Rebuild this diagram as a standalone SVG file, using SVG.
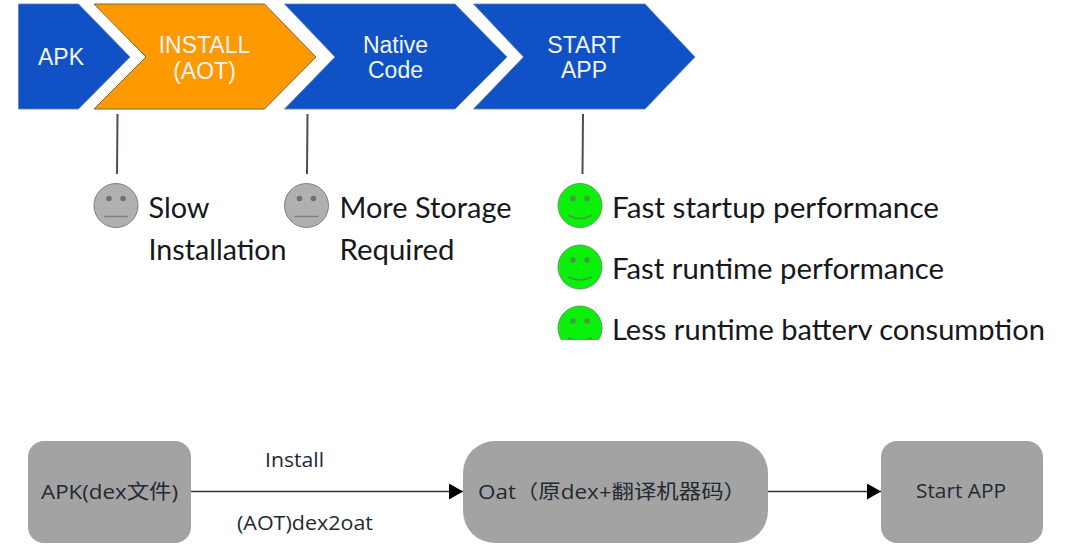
<svg xmlns="http://www.w3.org/2000/svg" width="1078" height="555" viewBox="0 0 1078 555">
<style>
.blue{fill:#1052c6;stroke:#5a7fc4;stroke-width:.8}
.orange{fill:#ff9900;stroke:#7d6a3a;stroke-width:1}
.w{font-family:"Liberation Sans",Arial,sans-serif;font-size:23px;fill:#f2f5fb;text-anchor:middle}
.t{font-family:"Lato","Noto Sans",sans-serif;font-size:28px;fill:#16181c}
.stem{stroke:#434f63;stroke-width:2;fill:none}
.gray{fill:#b0b0b0;stroke:#7f7f7f;stroke-width:1}
.green{fill:#0bf00b;stroke:#5f9a5f;stroke-width:1}
.d{fill:#6f6f6f}
.m{fill:none;stroke:#808080;stroke-width:1.4}
.gd{fill:#3f9f3f}
.gm{fill:none;stroke:#3f9f3f;stroke-width:1.4}
.box{fill:#a3a3a3}
.b{font-family:"Open Sans","Noto Sans CJK SC",sans-serif;font-size:20px;fill:#222a33}
.c{stroke:#333;stroke-width:1.6;fill:none}
</style>
<defs>
<marker id="a" markerUnits="userSpaceOnUse" markerWidth="14" markerHeight="16" refX="14" refY="8" orient="auto"><path d="M0 0L14 8L0 16Z" fill="#000"/></marker>
<g id="gf"><circle cx="0" cy="0" r="22" class="green"/><circle cx="-7" cy="-7" r="2.800" class="gd"/><circle cx="7" cy="-7" r="2.800" class="gd"/><path d="M-12 10Q0 16 12 10" class="gm"/></g>
<g id="nf"><circle cx="0" cy="0" r="22" class="gray"/><circle cx="-7" cy="-7" r="2.800" class="d"/><circle cx="7" cy="-7" r="2.800" class="d"/><path d="M-12 11H12" class="m"/></g>
</defs>
<rect width="1078" height="555" fill="#fff"/>
<g id="n-apk"><polygon class="blue" points="18.500,4 78.500,4 130,57 78.500,109 18.500,109"/><text class="w" x="61" y="65">APK</text></g>
<g id="n-install"><polygon class="orange" points="94,4 264.500,4 316,57 264.500,109 94,109 146,57"/><text class="w" x="204.500" y="53">INSTALL</text><text class="w" x="204.500" y="79">(AOT)</text></g>
<g id="n-native"><polygon class="blue" points="284.500,4 455,4 507,57 455,109 284.500,109 335,57"/><text class="w" x="395.500" y="53">Native</text><text class="w" x="395.500" y="78">Code</text></g>
<g id="n-start"><polygon class="blue" points="473.500,4 645,4 695,57 645,109 473.500,109 523.500,57"/><text class="w" x="584" y="53">START</text><text class="w" x="584" y="78">APP</text></g>
<g id="stems">
<line class="stem" x1="117.500" y1="114" x2="117" y2="174"/>
<line class="stem" x1="307.500" y1="114" x2="307" y2="174"/>
<line class="stem" x1="583" y1="114" x2="582.500" y2="174"/>
</g>
<g id="n-slow"><use href="#nf" x="116" y="205.500"/><text class="t" x="148.500" y="218" textLength="61" lengthAdjust="spacingAndGlyphs">Slow</text><text class="t" x="148.500" y="260" textLength="138" lengthAdjust="spacingAndGlyphs">Installation</text></g>
<g id="n-storage"><use href="#nf" x="306.500" y="205.500"/><text class="t" x="339.500" y="218" textLength="172" lengthAdjust="spacingAndGlyphs">More Storage</text><text class="t" x="339.500" y="260" textLength="115" lengthAdjust="spacingAndGlyphs">Required</text></g>
<g id="n-fast1"><use href="#gf" x="580" y="205.500"/><text class="t" x="612" y="218" textLength="327" lengthAdjust="spacingAndGlyphs">Fast startup performance</text></g>
<g id="n-fast2"><use href="#gf" x="580" y="267"/><text class="t" x="612" y="279" textLength="332" lengthAdjust="spacingAndGlyphs">Fast runtime performance</text></g>
<g id="n-less"><use href="#gf" x="580" y="328"/><text class="t" x="612" y="340" textLength="433" lengthAdjust="spacingAndGlyphs">Less runtime battery consumption</text></g>
<rect x="0" y="340" width="1078" height="215" fill="#fff"/>
<g id="connectors">
<line class="c" x1="190" y1="491.500" x2="463" y2="491.500" marker-end="url(#a)"/>
<line class="c" x1="768" y1="491.500" x2="881" y2="491.500" marker-end="url(#a)"/>
</g>
<g id="b-apk"><rect class="box" x="28" y="441" width="163" height="102" rx="16"/><text class="b" x="41" y="499" textLength="137" lengthAdjust="spacingAndGlyphs">APK(dex文件)</text></g>
<g id="b-oat"><rect class="box" x="463" y="441" width="305" height="102" rx="32"/><text class="b" x="478" y="499" textLength="268" lengthAdjust="spacingAndGlyphs">Oat（原dex+翻译机器码）</text></g>
<g id="b-start"><rect class="box" x="881" y="441" width="162" height="102" rx="16"/><text class="b" x="916" y="498" textLength="90" lengthAdjust="spacingAndGlyphs">Start APP</text></g>
<text class="b" x="265" y="467" textLength="59" lengthAdjust="spacingAndGlyphs">Install</text>
<text class="b" x="237" y="530" textLength="136" lengthAdjust="spacingAndGlyphs">(AOT)dex2oat</text>
</svg>
